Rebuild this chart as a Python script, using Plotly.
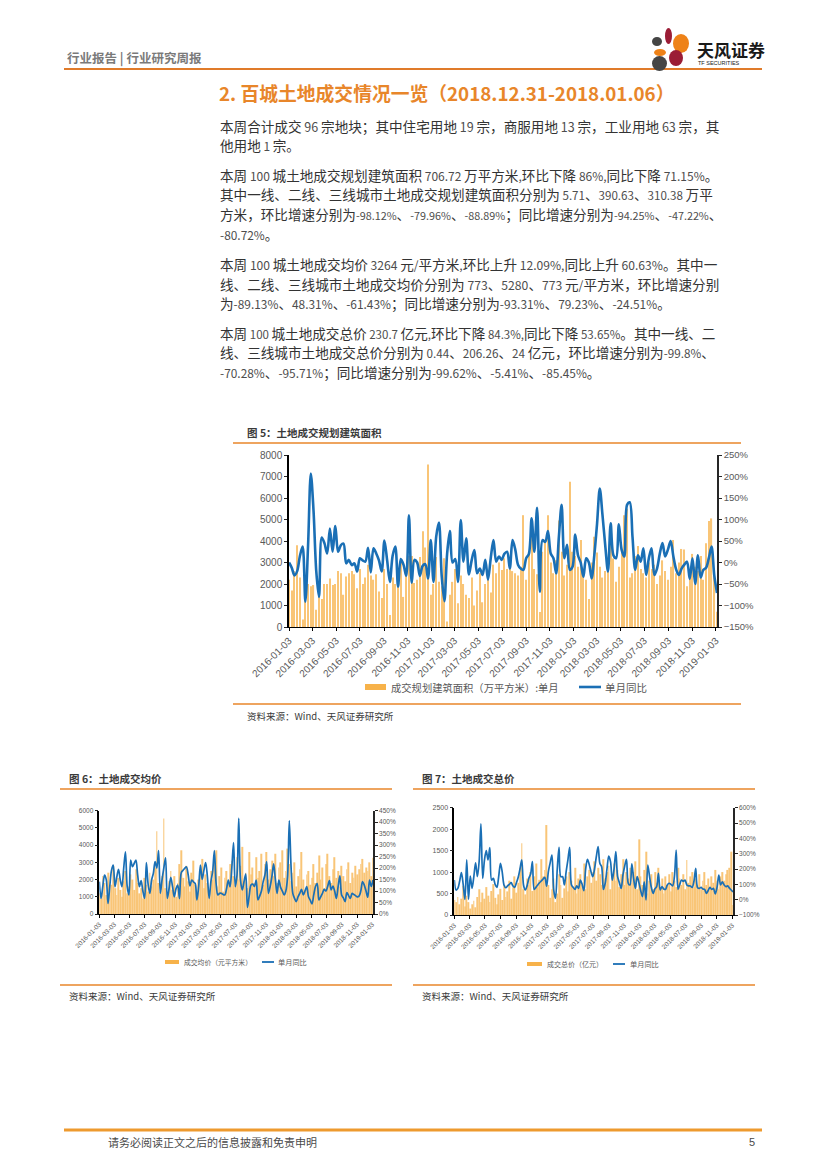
import pandas as pd
import plotly.graph_objects as go

W, H = 827, 1169
CJK = "Noto Sans CJK SC"
NUM = "Liberation Sans, Arial, sans-serif"
ORANGE = "#E8862A"
BAR = "#F7B24A"
LINE = "#1A6FB5"
GREY = "#595959"

# ---------------- data ----------------
TICK_LABELS = ["2016-01-03", "2016-03-03", "2016-05-03", "2016-07-03", "2016-09-03",
               "2016-11-03", "2017-01-03", "2017-03-03", "2017-05-03", "2017-07-03",
               "2017-09-03", "2017-11-03", "2018-01-03", "2018-03-03", "2018-05-03",
               "2018-07-03", "2018-09-03", "2018-11-03", "2019-01-03"]
WEEKS = pd.date_range("2016-01-03", periods=158, freq="7D")

AREA_BARS = [
    2200, 1700, 2600, 3800, 2300, 350, 2400, 2000, 1900, 1950,
    800, 1400, 1300, 2000, 2000, 2250, 1950, 2000, 2600, 2500,
    1500, 2350, 2500, 2600, 2450, 1800, 2700, 2000, 2300, 2900,
    2400, 2200, 2450, 1650, 1350, 2700, 2000, 560, 2300, 2000,
    2500, 3100, 1400, 2400, 3300, 3300, 2050, 2200, 3250, 4450,
    3700, 7560, 1500, 2000, 3250, 2100, 1900, 3200, 250, 1500,
    2100, 2700, 1100, 2400, 2000, 1500, 1350, 2300, 1000, 1700,
    2500, 1150, 2000, 2200, 1600, 2900, 2500, 3000, 2650, 3200,
    2700, 3000, 2600, 2500, 2400, 2800, 5200, 2200, 3400, 5000,
    2700, 2450, 700, 3500, 4000, 5200, 3000, 2500, 3100, 4950,
    3500, 2400, 2900, 6760, 3500, 3300, 2800, 4050, 2400, 2200,
    1300, 3000, 4200, 3470, 2800, 2300, 2600, 3000, 3800, 3190,
    2100, 2800, 3500, 5200, 5500, 2300, 2500, 3300, 3770, 2700,
    2500, 2300, 3000, 2700, 2900, 2000, 2400, 3100, 2600, 2200,
    2800, 4050, 2500, 3000, 3630, 3600, 1900, 2300, 3400, 2800,
    2600, 3300, 2200, 3900, 4930, 5050, 2500, 707]
AREA_YOY = [
    0, -12, -30, -20, 15, 37, -91, 40, 207, 120,
    -20, -80, 58, 45, 21, 79, 25, 85, 25, 40,
    44, -2, 6, -6, -2, -21, 10, 5, 2, 34,
    -23, 33, 21, 5, -21, 51, 5, -45, 15, 37,
    -56, 8, -5, -31, 110, -47, 6, 0, -31, -8,
    -4, -37, 52, -45, 60, 93, -30, -90, 20, 73,
    0, 8, -45, 99, 2, 56, -28, 5, 29, -25,
    -14, -29, 6, -40, 10, 52, 2, 14, 6, 20,
    25, -14, 52, 30, -5, -14, -17, 10, 20, 103,
    25, 127, -68, 52, 48, 73, 21, 10, -25, 60,
    134, 10, 41, -17, -10, 65, 17, 0, -33, 10,
    0, -37, 17, 90, 172, 110, 40, -21, 91, 17,
    10, 89, 30, 14, 134, 140, 60, -17, 17, 2,
    33, -29, 10, 33, -29, -14, 20, 45, 14, 30,
    50, 14, -16, -29, -14, -5, 2, -38, 10, -50,
    17, -35, -17, -12, 10, 37, -30, -71]

PRICE_BARS = [
    1200, 900, 2200, 1800, 1100, 2400, 1300, 1700, 2800, 1500,
    1100, 2100, 1400, 1000, 1900, 2500, 1200, 1600, 2300, 2000,
    1400, 2600, 1800, 1200, 1500, 900, 2100, 1700, 1300, 2400,
    1600, 2000, 2700, 4800, 1800, 1300, 2200, 5550, 1500, 1200,
    1900, 2500, 1400, 2200, 1000, 1800, 2900, 3700, 2100, 1600,
    2800, 1900, 1300, 2400, 3100, 1700, 1200, 2000, 2600, 3200,
    1500, 2300, 1800, 1000, 2500, 2000, 3000, 3700, 1600, 2200,
    2700, 1300, 2100, 2500, 1800, 2900, 3100, 2200, 1700, 3300,
    2000, 2800, 3900, 1900, 2400, 1500, 3600, 2300, 2700, 1800,
    3300, 2100, 2500, 3500, 1700, 2900, 3600, 2000, 2600, 3100,
    2200, 3500, 1800, 2700, 3000, 3700, 2100, 2500, 3800, 2900,
    1900, 2400, 3000, 1600, 2200, 2600, 3600, 2000, 1400, 2300,
    2500, 1700, 2100, 2900, 1800, 2400, 3400, 2000, 2700, 1500,
    2900, 3500, 2200, 1800, 2600, 3300, 2100, 2500, 1600, 2800,
    2200, 1900, 2600, 3000, 1800, 2400, 2100, 2800, 2300, 2600,
    2900, 3200, 2400, 2700, 2500, 3000, 2200, 3264]
PRICE_YOY = [
    141, 68, 120, 170, 150, 46, 120, 190, 213, 119,
    160, 195, 150, 119, 200, 271, 120, 83, 235, 206,
    220, 235, 170, 119, 145, 100, 68, 224, 130, 90,
    148, 177, 228, 200, 276, 90, 150, 200, 245, 68,
    110, 160, 120, 75, 110, 126, 67, 180, 190, 199,
    205, 170, 122, 148, 140, 133, 61, 120, 213, 151,
    190, 224, 163, 68, 140, 184, 276, 133, 83, 90,
    90, 85, 83, 110, 148, 119, 200, 311, 119, 170,
    417, 148, 105, 140, 174, 29, 80, 126, 130, 120,
    148, 61, 78, 100, 141, 170, 228, 90, 120, 163,
    218, 150, 90, 148, 116, 100, 83, 100, 163, 406,
    206, 90, 68, 54, 75, 90, 107, 83, 100, 119,
    75, 60, 44, 83, 120, 133, 61, 75, 90, 107,
    100, 120, 145, 105, 122, 100, 68, 120, 166, 83,
    70, 54, 93, 80, 68, 90, 85, 80, 75, 78,
    100, 141, 126, 100, 73, 148, 120, 148]

TOTAL_BARS = [
    350, 300, 420, 250, 380, 680, 200, 450, 300, 150,
    250, 330, 180, 420, 600, 300, 520, 380, 650, 450,
    300, 560, 720, 400, 250, 480, 610, 350, 700, 420,
    550, 800, 380, 650, 900, 520, 750, 1100, 1669, 600,
    480, 850, 700, 1000, 560, 900, 1200, 650, 820, 1300,
    900, 1050, 2096, 700, 400, 600, 850, 300, 500, 950,
    700, 400, 620, 900, 550, 1000, 800, 650, 1100, 500,
    850, 950, 700, 1200, 600, 900, 1050, 750, 1000, 1250,
    800, 1100, 950, 700, 1300, 850, 1000, 1150, 600, 900,
    1200, 800, 1050, 650, 950, 1300, 700, 1000, 850, 1100,
    750, 1000, 1250, 600, 1762, 900, 700, 1050, 1475, 500,
    800, 950, 600, 1000, 750, 1100, 650, 850, 500, 900,
    700, 950, 550, 1000, 800, 650, 1100, 850, 700, 950,
    600, 1281, 750, 900, 1000, 650, 850, 700, 950, 600,
    800, 1000, 700, 850, 650, 900, 750, 1050, 800, 600,
    900, 1000, 800, 950, 1050, 1100, 1475, 231]
TOTAL_YOY = [
    128, 63, 74, 120, 176, 100, 2, 259, 2, 154,
    74, 150, 241, 150, 250, 494, 139, 260, 320, 260,
    339, 128, 139, 100, 80, 150, 237, 180, 96, 78,
    90, 100, 111, 90, 80, 110, 146, 200, 259, 96,
    63, 90, 140, 167, 248, 67, 80, 96, 110, 122,
    135, 146, 89, 183, 240, 291, 63, 9, 200, 341,
    150, 150, 96, 183, 260, 341, 96, 80, 67, 90,
    74, 128, 100, 59, 200, 263, 230, 183, 150, 200,
    280, 346, 237, 215, 67, 107, 200, 285, 248, 128,
    200, 313, 150, 111, 74, 161, 220, 263, 107, 96,
    233, 140, 74, 150, 111, 60, 20, 117, -2, 226,
    150, 80, 41, 70, 85, 172, 63, 85, 70, 67,
    96, 107, 100, 90, 150, 324, 67, 100, 128, 120,
    128, 96, 90, 89, 80, 120, 204, 80, 74, 80,
    70, 67, 41, 60, 80, 67, 74, 37, 80, 161,
    96, 117, 96, 85, 90, 75, 63, 50]

BODY_TITLE = "2. 百城土地成交情况一览（2018.12.31-2018.01.06）"
BODY_LINES = [
    "本周合计成交 96 宗地块；其中住宅用地 19 宗，商服用地 13 宗，工业用地 63 宗，其",
    "他用地 1 宗。",
    "本周 100 城土地成交规划建筑面积 706.72 万平方米,环比下降 86%,同比下降 71.15%。",
    "其中一线、二线、三线城市土地成交规划建筑面积分别为 5.71、390.63、310.38 万平",
    "方米，环比增速分别为-98.12%、-79.96%、-88.89%；同比增速分别为-94.25%、-47.22%、",
    "-80.72%。",
    "本周 100 城土地成交均价 3264 元/平方米,环比上升 12.09%,同比上升 60.63%。其中一",
    "线、二线、三线城市土地成交均价分别为 773、5280、773 元/平方米，环比增速分别",
    "为-89.13%、48.31%、-61.43%；同比增速分别为-93.31%、79.23%、-24.51%。",
    "本周 100 城土地成交总价 230.7 亿元,环比下降 84.3%,同比下降 53.65%。其中一线、二",
    "线、三线城市土地成交总价分别为 0.44、206.26、24 亿元，环比增速分别为-99.8%、",
    "-70.28%、-95.71%；同比增速分别为-99.62%、-5.41%、-85.45%。",
]
BODY_Y = [126, 145, 175, 194, 214, 234, 264, 284, 303, 333, 352, 372]
BODY_FULL = [True, False, True, True, True, False, True, True, False, True, True, False]

# ---------------- helpers ----------------
def X(px):
    return px / W

def Y(py):
    return 1 - py / H

annotations = []
shapes = []

def text(px, py, s, size, color="#333333", bold=False, xanchor="left", family=CJK):
    if bold:
        s = "<b>" + s + "</b>"
    annotations.append(dict(x=X(px), y=Y(py), xref="paper", yref="paper", text=s,
                            showarrow=False, xanchor=xanchor, yanchor="middle",
                            font=dict(size=size, color=color, family=family)))

def hline(x0, x1, py, color=ORANGE, width=1.5):
    shapes.append(dict(type="line", xref="paper", yref="paper", x0=X(x0), x1=X(x1),
                       y0=Y(py), y1=Y(py), line=dict(color=color, width=width)))

def rect(x0, y0, x1, y1, color):
    shapes.append(dict(type="rect", xref="paper", yref="paper", x0=X(x0), x1=X(x1),
                       y0=Y(y1), y1=Y(y0), fillcolor=color, line=dict(width=0)))

def ell(x0, y0, x1, y1, color):
    shapes.append(dict(type="circle", xref="paper", yref="paper", x0=X(x0), x1=X(x1),
                       y0=Y(y1), y1=Y(y0), fillcolor=color, line=dict(width=0)))

CJK_SIZE = 13.6
ASCII_MAX = 11.9
ASCII_MIN = 10.8
LINE_W = 499

def body_markup(s, full):
    n_full = sum(1 for c in s if ord(c) > 0x2E80)
    n_space = s.count(" ")
    n_other = len(s) - n_full - n_space
    unit = n_other * 0.537 + n_space * 0.224
    a = ASCII_MAX
    if full and unit > 0:
        a = (LINE_W - n_full * CJK_SIZE) / unit
        a = max(ASCII_MIN, min(ASCII_MAX + 0.6, a))
    out, run = [], ""
    for c in s:
        if ord(c) > 0x2E80:
            if run:
                out.append('<span style="font-size:%.1fpx;color:#4d4d4d">%s</span>' % (a, run))
                run = ""
            out.append(c)
        else:
            run += c
    if run:
        out.append('<span style="font-size:%.1fpx;color:#4d4d4d">%s</span>' % (a, run))
    return "".join(out)

# ---------------- figure ----------------
fig = go.Figure()
WEEK_MS = 7 * 24 * 3600 * 1000

def add_chart(bars, yoy, xa, ya, ya2, lw, bw):
    fig.add_trace(go.Bar(x=WEEKS, y=bars, xaxis=xa, yaxis=ya, width=WEEK_MS * bw,
                         marker=dict(color=BAR, line=dict(width=0)), opacity=0.75,
                         showlegend=False, hoverinfo="skip"))
    fig.add_trace(go.Scatter(x=WEEKS, y=yoy, xaxis=xa, yaxis=ya2, mode="lines",
                             line=dict(color=LINE, width=lw, shape="spline", smoothing=0.9),
                             showlegend=False, hoverinfo="skip"))

add_chart(AREA_BARS, AREA_YOY, "x", "y", "y2", 2.6, 0.42)
add_chart(PRICE_BARS, PRICE_YOY, "x2", "y3", "y4", 1.7, 0.5)
add_chart(TOTAL_BARS, TOTAL_YOY, "x3", "y5", "y6", 1.7, 0.5)

def xcfg(domain, anchor, size):
    return dict(domain=domain, anchor=anchor, type="date", automargin=False,
                range=["2016-01-03", "2019-01-06"], tickmode="array",
                tickvals=TICK_LABELS, ticktext=TICK_LABELS, tickangle=-45,
                tickfont=dict(size=size, color=GREY, family=NUM),
                showline=True, linecolor="#000000", linewidth=1.2,
                ticks="outside", ticklen=3, tickcolor="#000000",
                showgrid=False, zeroline=False)

def ycfg(domain, anchor, rng, dtick, size, suffix="", right=False, overlay=None):
    d = dict(anchor=anchor, range=rng, dtick=dtick, tick0=rng[0], automargin=False,
             tickfont=dict(size=size, color=GREY, family=NUM), ticksuffix=suffix,
             showline=True, linecolor="#262626" if right else "#000000", linewidth=1.5,
             ticks="outside", ticklen=3, tickcolor="#262626",
             showgrid=False, zeroline=False)
    if right:
        d.update(side="right", overlaying=overlay)
    else:
        d.update(domain=domain)
    return d

c5x = [X(289), X(717)]
c5y = [Y(627), Y(455)]
c6x = [X(99.3), X(373)]
c6y = [Y(914), Y(810.7)]
c7x = [X(454.3), X(733)]
c7y = [Y(915), Y(807.7)]

fig.update_layout(
    width=W, height=H, autosize=False,
    margin=dict(l=0, r=0, t=0, b=0, pad=0, autoexpand=False),
    paper_bgcolor="white", plot_bgcolor="white", showlegend=False,
    xaxis=xcfg(c5x, "y", 10),
    yaxis=ycfg(c5y, "x", [0, 8000], 1000, 10),
    yaxis2=ycfg(None, "x", [-150, 250], 50, 9.5, "%", True, "y"),
    xaxis2=xcfg(c6x, "y3", 6.5),
    yaxis3=ycfg(c6y, "x2", [0, 6000], 1000, 6.5),
    yaxis4=ycfg(None, "x2", [0, 450], 50, 6.5, "%", True, "y3"),
    xaxis3=xcfg(c7x, "y5", 6.5),
    yaxis5=ycfg(c7y, "x3", [0, 2500], 500, 7),
    yaxis6=ycfg(None, "x3", [-100, 600], 100, 6.5, "%", True, "y5"),
)

# header
text(65, 58, "行业报告 | 行业研究周报", 12.5, "#7a7a7a", bold=True)
hline(64, 762, 69, "#E07B2A", 2)
ell(665, 28, 672, 44, "#9B1D36")
ell(673, 34, 689, 53, "#EE8218")
ell(652, 37, 662, 46, "#454545")
ell(654, 49, 666, 56, "#EE8218")
ell(652, 56, 667, 71, "#454545")
ell(669, 50, 683, 66, "#9B1D36")
text(695, 50, "天风证券", 17, "#1a1a1a", bold=True)
text(696, 63, "TF SECURITIES", 5.5, "#1a1a1a", family=NUM)

# body
text(217, 92, BODY_TITLE, 18.8, ORANGE, bold=True)
for s, yy, full in zip(BODY_LINES, BODY_Y, BODY_FULL):
    text(218, yy, body_markup(s, full), CJK_SIZE, "#333333")

# chart 5 decorations
text(245, 432, "图 5：土地成交规划建筑面积", 10.5, "#3a3a3a", bold=True)
hline(233, 741, 443)
rect(365, 684, 386, 690, BAR)
text(389, 687, "成交规划建筑面积（万平方米）:单月", 10.3, GREY)
hline(579, 601, 687, LINE, 2.6)
text(603, 687, "单月同比", 10.5, GREY)
hline(233, 741, 704)
text(245, 716, "资料来源：Wind、天风证券研究所", 9.5, "#3a3a3a")

# chart 6 decorations
text(67, 778, "图 6：土地成交均价", 10.5, "#3a3a3a", bold=True)
hline(60, 392, 789)
rect(165, 960, 179, 964, BAR)
text(182, 962, "成交均价（元平方米）", 6.8, GREY)
hline(262, 274, 962, LINE, 1.8)
text(276, 962, "单月同比", 7.2, GREY)
hline(60, 392, 985)
text(67, 996, "资料来源：Wind、天风证券研究所", 9.5, "#3a3a3a")

# chart 7 decorations
text(420, 778, "图 7：土地成交总价", 10.5, "#3a3a3a", bold=True)
hline(413, 755, 789)
rect(527, 962, 542, 966, BAR)
text(545, 964, "成交总价（亿元）", 7, GREY)
hline(613, 625, 964, LINE, 1.8)
text(628, 964, "单月同比", 7.2, GREY)
hline(413, 755, 985)
text(420, 996, "资料来源：Wind、天风证券研究所", 9.5, "#3a3a3a")

# footer
hline(64, 762, 1130, "#EE9A2E", 3)
text(106, 1142, "请务必阅读正文之后的信息披露和免责申明", 11, "#4a4a4a")
text(757, 1142, "5", 11, "#4a4a4a", xanchor="right", family=NUM)

fig.update_layout(annotations=annotations, shapes=shapes)
fig.write_html("out.html", config={"displayModeBar": False},
               post_script="document.body.style.margin='0';")
